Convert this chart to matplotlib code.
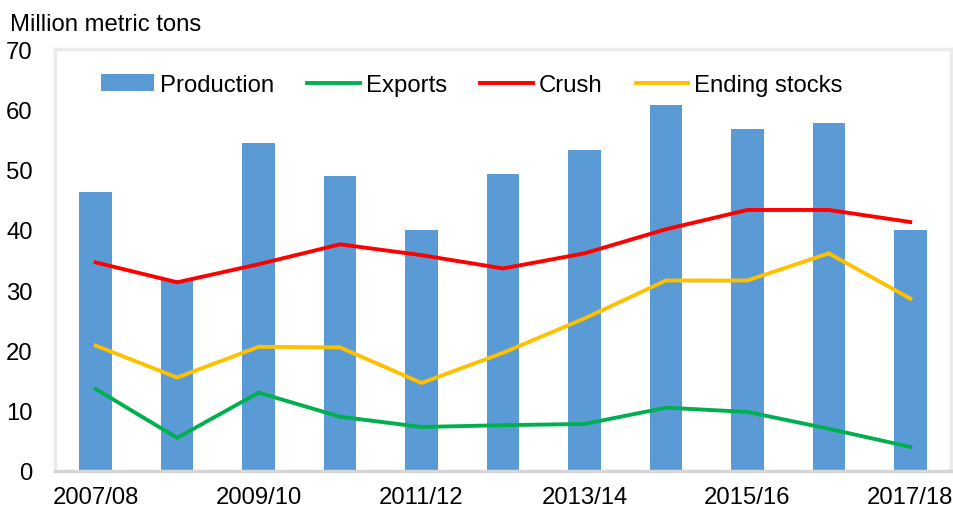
import numpy as np
import matplotlib
matplotlib.use("Agg")
import matplotlib.pyplot as plt

plt.rcParams['font.family'] = ['Liberation Sans', 'DejaVu Sans']

# marketing years
years = ['2007/08', '2008/09', '2009/10', '2010/11', '2011/12', '2012/13',
         '2013/14', '2014/15', '2015/16', '2016/17', '2017/18']
production = [46.2, 31.7, 54.4, 48.9, 39.9, 49.3, 53.2, 60.7, 56.7, 57.7, 40.0]
exports = [13.6, 5.5, 13.0, 9.0, 7.3, 7.6, 7.8, 10.5, 9.8, 7.0, 4.0]
crush = [34.6, 31.3, 34.3, 37.6, 35.8, 33.6, 36.1, 40.1, 43.3, 43.3, 41.3]
ending_stocks = [20.8, 15.5, 20.6, 20.5, 14.6, 19.6, 25.3, 31.6, 31.6, 36.1, 28.6]

fs = 17.2

fig = plt.figure(figsize=(9.54, 5.10), dpi=100)
ax = fig.add_axes([55 / 954, 38 / 510, 896 / 954, 422 / 510])

x = np.arange(len(years))
bars = ax.bar(x, production, width=0.4, color='#5B9BD5', label='Production', zorder=2)
l1, = ax.plot(x, exports, color='#00B050', lw=2.8, label='Exports', zorder=3)
l2, = ax.plot(x, crush, color='#FF0000', lw=2.8, label='Crush', zorder=3)
l3, = ax.plot(x, ending_stocks, color='#FFC000', lw=2.8, label='Ending stocks', zorder=3)

ax.set_xlim(-0.5, len(years) - 0.5)
ax.set_ylim(0, 70)
ax.set_yticks(range(0, 71, 10))
ax.set_xticks(x[::2])
ax.set_xticklabels(years[::2])
ax.tick_params(axis='both', length=0, labelsize=fs)
ax.tick_params(axis='y', pad=16)
ax.tick_params(axis='x', pad=11)

for side in ['top', 'left', 'right']:
    ax.spines[side].set_color('#ebebeb')
    ax.spines[side].set_linewidth(2.5)
ax.spines['bottom'].set_color('#d6d6d6')
ax.spines['bottom'].set_linewidth(2.5)

fig.text(10 / 954, 1 - 25 / 510, 'Million metric tons', fontsize=fs, va='center', ha='left')

fig.legend(handles=[bars, l1, l2, l3], loc='center',
           bbox_to_anchor=(472 / 954, 1 - 86 / 510), ncol=4, frameon=False,
           fontsize=fs, handlelength=2.2, handletextpad=0.25, columnspacing=1.4)

fig.savefig('out.png', dpi=100)
